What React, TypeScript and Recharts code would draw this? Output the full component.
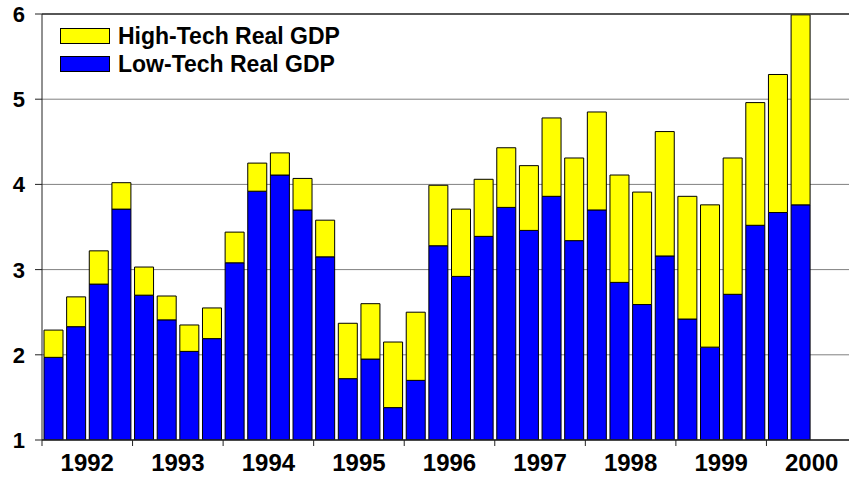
import React from 'react';
import { BarChart, Bar, XAxis, YAxis, CartesianGrid, Legend, ReferenceLine } from 'recharts';

const years = ['1992', '1993', '1994', '1995', '1996', '1997', '1998', '1999', '2000'];
const quarters = ['Q1', 'Q2', 'Q3', 'Q4'];
const lowTech = [
  1.97, 2.33, 2.83, 3.71,
  2.70, 2.41, 2.04, 2.19,
  3.08, 3.92, 4.11, 3.70,
  3.15, 1.72, 1.95, 1.38,
  1.70, 3.28, 2.92, 3.39,
  3.73, 3.46, 3.86, 3.34,
  3.70, 2.85, 2.59, 3.16,
  2.42, 2.09, 2.71, 3.52,
  3.67, 3.76,
];
const highTech = [
  0.32, 0.35, 0.39, 0.31,
  0.33, 0.28, 0.31, 0.36,
  0.36, 0.33, 0.26, 0.37,
  0.43, 0.65, 0.65, 0.77,
  0.80, 0.71, 0.79, 0.67,
  0.70, 0.76, 0.92, 0.97,
  1.15, 1.26, 1.32, 1.46,
  1.44, 1.67, 1.60, 1.44,
  1.62, 2.23,
];
const yTicks = [1, 2, 3, 4, 5, 6];
const legendOrder = ['high', 'low'];
const seriesNames = { high: 'High-Tech Real GDP', low: 'Low-Tech Real GDP' };
const seriesColors = { high: '#FFFF00', low: '#0000FF' };

const data = years.flatMap((y, yi) =>
  quarters.map((q, qi) => {
    const i = yi * 4 + qi;
    return {
      period: `${y} ${q}`,
      low: i < lowTech.length ? lowTech[i] : null,
      high: i < highTech.length ? highTech[i] : null,
    };
  })
);

const CHART_W = 872;
const CHART_H = 479;
const MARGIN = { top: 14, right: 15, bottom: 0, left: 0 };
const Y_AXIS_W = 42;
const X_AXIS_H = 39;
const PLOT_BOTTOM = CHART_H - MARGIN.bottom - X_AXIS_H;
const BAND = (CHART_W - MARGIN.right - MARGIN.left - Y_AXIS_W) / data.length;
const FONT = 'Arial, "Liberation Sans", Helvetica, sans-serif';

const XTick = (props: any) => {
  const { x, payload } = props;
  const i = payload.index;
  const half = BAND / 2;
  const label = String(payload.value).split(' ')[0];
  return (
    <g>
      {i % 4 === 0 && (
        <line x1={x - half} x2={x - half} y1={PLOT_BOTTOM} y2={PLOT_BOTTOM + 6} stroke="#222" strokeWidth={1} />
      )}
      {i % 4 === 1 && (
        <text
          x={x + half}
          y={PLOT_BOTTOM + 31}
          textAnchor="middle"
          fill="#000"
          style={{ fontFamily: FONT, fontWeight: 'bold', fontSize: 24 }}
        >
          {label}
        </text>
      )}
    </g>
  );
};

const YTick = (props: any) => {
  const { x, y, payload } = props;
  return (
    <text
      x={x}
      y={y}
      dy={8}
      textAnchor="end"
      fill="#000"
      style={{ fontFamily: FONT, fontWeight: 'bold', fontSize: 22 }}
    >
      {payload.value}
    </text>
  );
};

const renderLegend = () => {
  return (
    <div style={{ display: 'flex', flexDirection: 'column' }}>
      {legendOrder.map((k) => (
        <div key={k} style={{ display: 'flex', alignItems: 'center', height: 28 }}>
          <span
            style={{
              display: 'inline-block',
              width: 50,
              height: 16,
              background: (seriesColors as any)[k],
              border: '1px solid #000',
              boxSizing: 'border-box',
              marginRight: 8,
            }}
          />
          <span style={{ fontFamily: FONT, fontWeight: 'bold', fontSize: 23, lineHeight: '28px', color: '#000', whiteSpace: 'nowrap' }}>
            {(seriesNames as any)[k]}
          </span>
        </div>
      ))}
    </div>
  );
};

export default function App() {
  return (
    <div style={{ position: 'absolute', left: 0, top: 0, width: 849, height: 479, overflow: 'hidden', background: '#fff' }}>
      <BarChart width={CHART_W} height={CHART_H} data={data} margin={MARGIN} barSize={19}>
        <CartesianGrid vertical={false} stroke="#808080" strokeWidth={1} />
        <XAxis
          dataKey="period"
          interval={0}
          height={X_AXIS_H}
          tickLine={false}
          axisLine={{ stroke: '#222', strokeWidth: 1.5 }}
          tick={<XTick />}
        />
        <YAxis
          type="number"
          domain={[1, 6]}
          ticks={yTicks}
          allowDataOverflow
          width={Y_AXIS_W}
          tickSize={7}
          tickMargin={10}
          axisLine={{ stroke: '#222', strokeWidth: 1 }}
          tickLine={{ stroke: '#222' }}
          tick={<YTick />}
        />
        <ReferenceLine y={6} stroke="#333" strokeWidth={1.5} />
        <Legend
          layout="vertical"
          align="center"
          verticalAlign="middle"
          wrapperStyle={{ left: 60, top: 22, width: 'auto' }}
          content={renderLegend}
        />
        <Bar dataKey="low" name={seriesNames.low} stackId="gdp" fill={seriesColors.low} stroke="#000" strokeWidth={1} isAnimationActive={false} />
        <Bar dataKey="high" name={seriesNames.high} stackId="gdp" fill={seriesColors.high} stroke="#000" strokeWidth={1} isAnimationActive={false} />
      </BarChart>
    </div>
  );
}
